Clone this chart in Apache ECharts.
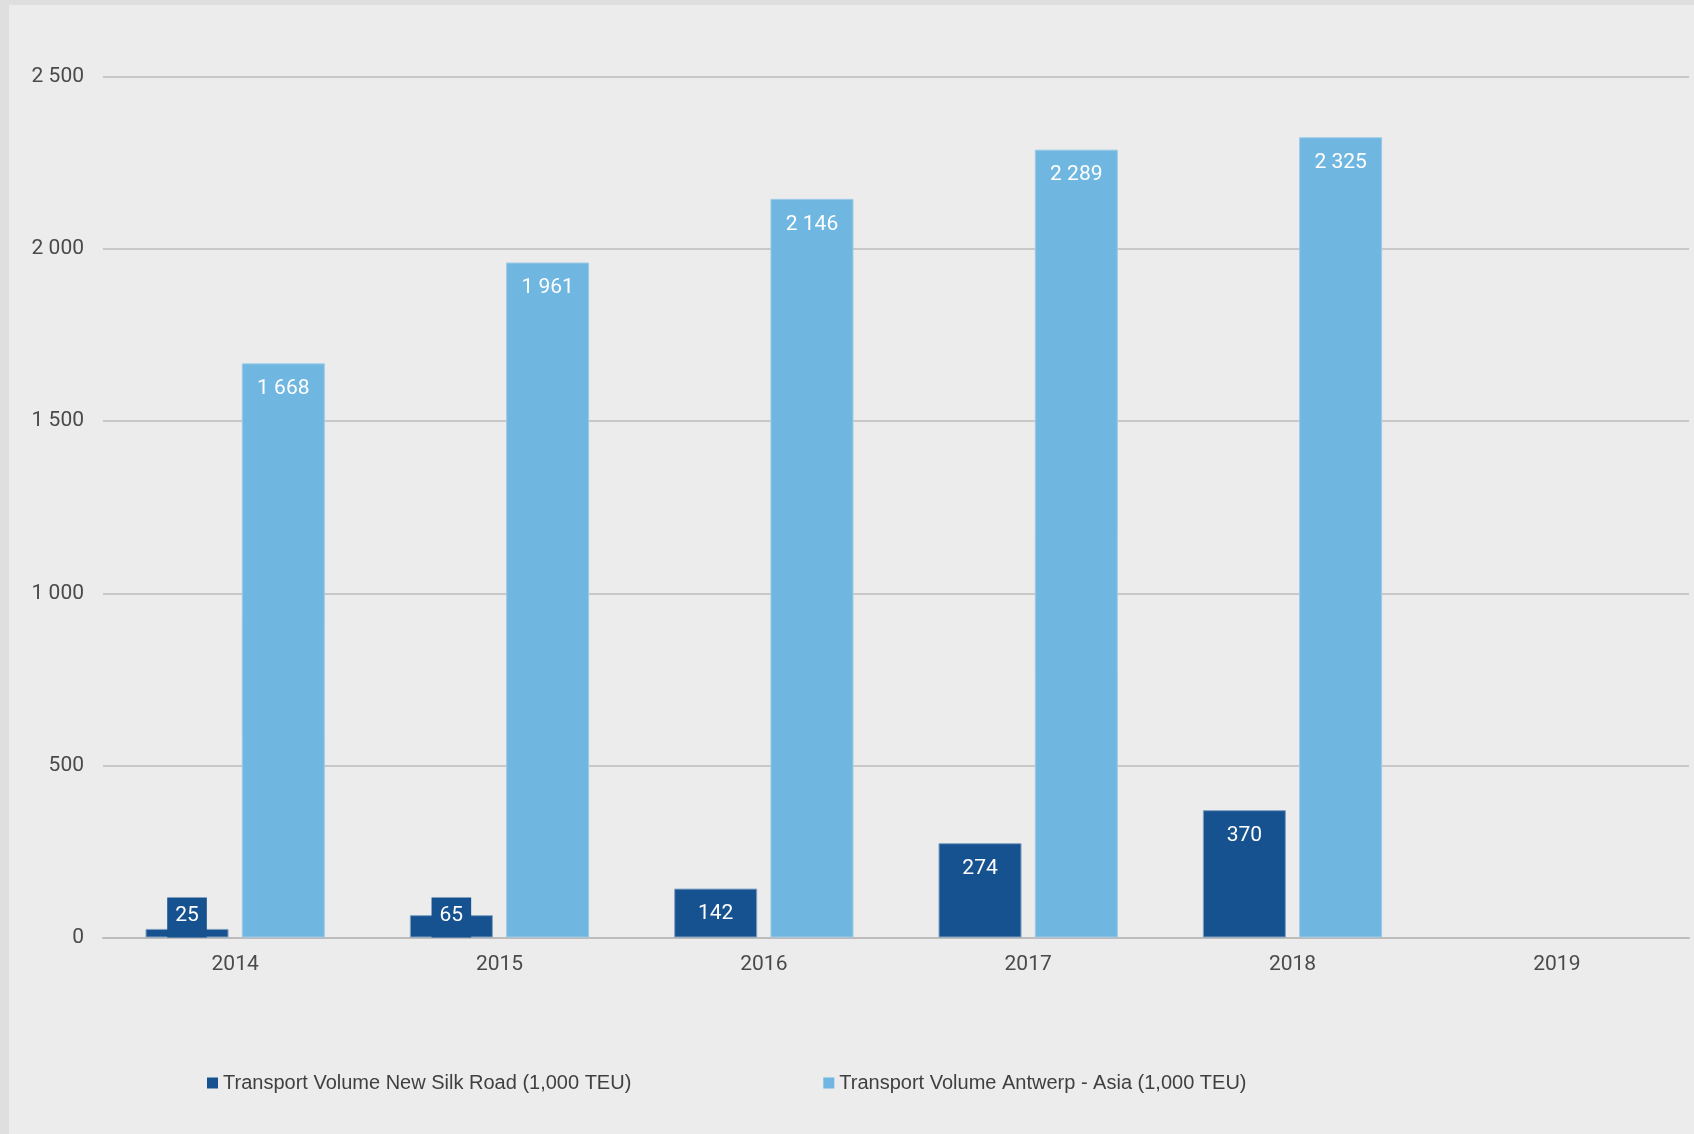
<!DOCTYPE html>
<html>
<head>
<meta charset="utf-8">
<script src="https://cdn.jsdelivr.net/npm/echarts@6/dist/echarts.min.js"></script>
<style>
  html, body { margin: 0; padding: 0; width: 1694px; height: 1134px; background: #dfdfdf; overflow: hidden; }
  #chart { position: absolute; left: 9px; top: 5px; width: 1685px; height: 1129px; background: #ececec; }
</style>
</head>
<body>
<div id="chart"></div>
<script>
// Years on the category axis
const years = ['2014', '2015', '2016', '2017', '2018', '2019'];
// Rail volumes on the New Silk Road (1,000 TEU)
const silkRoad = [25, 65, 142, 274, 370, null];
// Maritime volumes Antwerp - Asia (1,000 TEU)
const antwerpAsia = [1668, 1961, 2146, 2289, 2325, null];
// Value-axis ticks
const yTicks = [0, 500, 1000, 1500, 2000, 2500];

const seriesNames = [
  'Transport Volume New Silk Road (1,000 TEU)',
  'Transport Volume Antwerp - Asia (1,000 TEU)'
];

const DARK = '#16528f';
const LIGHT = '#6fb6e0';
const FONT = 'Roboto, "Liberation Sans", sans-serif';

// thousands separated by a space, e.g. 2 325
const fmt = v => String(v).replace(/\B(?=(\d{3})+(?!\d))/g, ' ');

const baseLabel = {
  show: true,
  position: 'insideTop',
  distance: 15,
  color: '#ffffff',
  fontFamily: FONT,
  fontSize: 21,
  formatter: p => fmt(p.value)
};

// bars too short to hold their value get a boxed label sitting on the axis
const silkData = silkRoad.map(v => {
  if (v !== null && v < 100) {
    return {
      value: v,
      label: {
        position: 'insideBottom',
        distance: 0,
        backgroundColor: DARK,
        padding: [8, 8, 12, 8],
        lineHeight: 20
      }
    };
  }
  return v;
});

const chart = echarts.init(document.getElementById('chart'), null, { renderer: 'canvas' });
chart.setOption({
  backgroundColor: '#ececec',
  animation: false,
  grid: { left: 94, right: 5, top: 72, bottom: 196.5, containLabel: false },
  legend: {
    data: seriesNames,
    left: 193,
    top: 1063,
    icon: 'rect',
    itemWidth: 11,
    itemHeight: 11,
    itemGap: 192,
    itemStyle: { borderWidth: 0 },
    textStyle: { fontFamily: '"Liberation Sans Narrow", "Liberation Sans", sans-serif', fontSize: 20, color: '#404040' }
  },
  xAxis: {
    type: 'category',
    data: years,
    axisTick: { show: false },
    axisLine: { lineStyle: { color: '#bcbcbc', width: 2 } },
    axisLabel: { color: '#4a4a4a', fontFamily: FONT, fontSize: 21, margin: 17 }
  },
  yAxis: {
    type: 'value',
    min: yTicks[0],
    max: yTicks[yTicks.length - 1],
    interval: yTicks[1] - yTicks[0],
    axisLine: { show: false },
    axisTick: { show: false },
    splitLine: { lineStyle: { color: '#c8c8c8', width: 2 } },
    axisLabel: { color: '#4a4a4a', fontFamily: FONT, fontSize: 21, margin: 19, formatter: v => fmt(v) }
  },
  series: [
    {
      name: seriesNames[0],
      type: 'bar',
      data: silkData,
      barWidth: 83,
      barGap: '16%',
      itemStyle: { color: DARK, borderColor: '#7f9fc0', borderWidth: 1 },
      label: baseLabel
    },
    {
      name: seriesNames[1],
      type: 'bar',
      data: antwerpAsia,
      barWidth: 83,
      barGap: '16%',
      itemStyle: { color: LIGHT, borderColor: '#9ccbe8', borderWidth: 1 },
      label: baseLabel
    }
  ]
});
</script>
</body>
</html>
